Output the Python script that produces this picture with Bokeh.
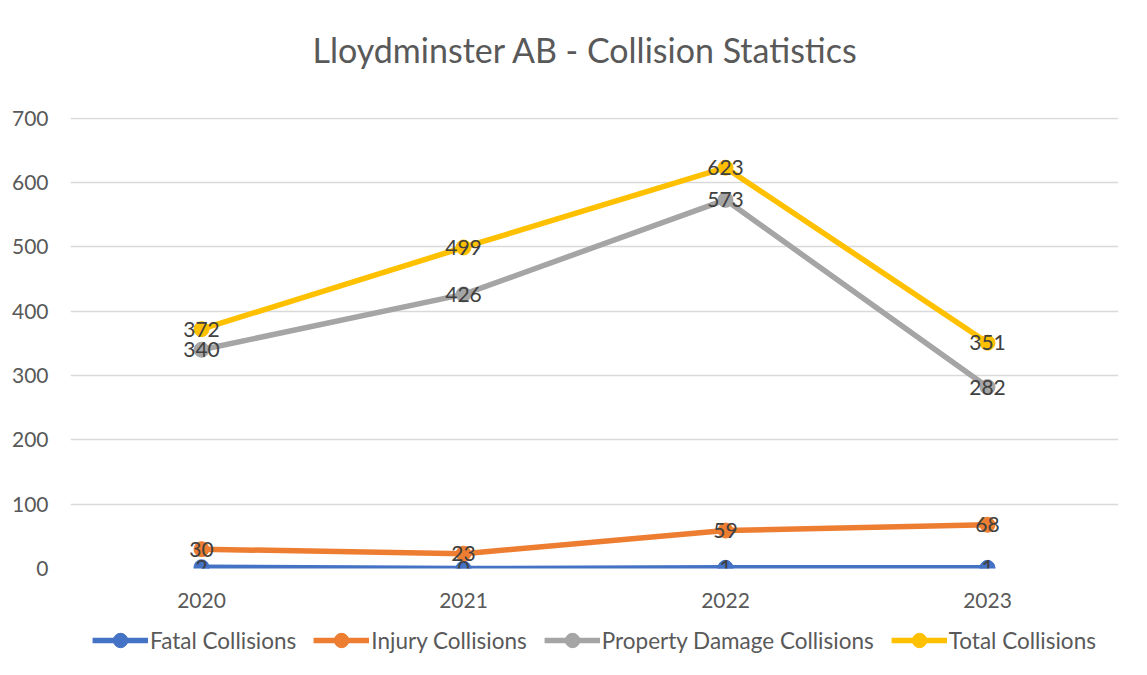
from bokeh.plotting import figure
from bokeh.models import ColumnDataSource, FactorRange, Range1d, Legend, LegendItem, SingleIntervalTicker, LabelSet
from bokeh.layouts import column
from bokeh.core.properties import value
from bokeh.embed import file_html
from bokeh.resources import INLINE

years = ["2020", "2021", "2022", "2023"]
fatal = [2, 0, 1, 1]
injury = [30, 23, 59, 68]
property_damage = [340, 426, 573, 282]
total = [372, 499, 623, 351]

series = [
    ("Fatal Collisions", fatal, "#4472C4"),
    ("Injury Collisions", injury, "#ED7D31"),
    ("Property Damage Collisions", property_damage, "#A5A5A5"),
    ("Total Collisions", total, "#FFC000"),
]

FONT = "Lato"

# title strip
tt = figure(width=1131, height=105, x_range=Range1d(0, 1), y_range=Range1d(0, 1),
            output_backend="svg", toolbar_location=None, x_axis_type=None, y_axis_type=None,
            min_border_left=70, min_border_right=13, min_border_top=0, min_border_bottom=0,
            title="Lloydminster AB - Collision Statistics")
tt.outline_line_color = None
tt.grid.grid_line_color = None
tt.title.align = "left"
tt.title.offset = 242
tt.title.vertical_align = "top"
tt.title.text_font = FONT
tt.title.text_font_size = "34px"
tt.title.text_font_style = "normal"
tt.title.text_color = "#595959"
tt.title.standoff = 56

p = figure(width=1131, height=515, x_range=FactorRange(*years), y_range=Range1d(0, 701),
           output_backend="svg", toolbar_location=None,
           min_border_left=70, min_border_right=13, min_border_top=12, min_border_bottom=52)
p.outline_line_color = None
p.background_fill_color = "white"
p.border_fill_color = "white"

p.yaxis.ticker = SingleIntervalTicker(interval=100)
p.yaxis.axis_line_color = None
p.yaxis.major_tick_line_color = None
p.yaxis.minor_tick_line_color = None
p.yaxis.major_label_text_font = FONT
p.yaxis.major_label_text_font_size = "21px"
p.yaxis.major_label_text_color = "#595959"
p.yaxis.major_label_standoff = 16

p.xaxis.axis_line_color = None
p.xaxis.major_tick_line_color = None
p.xaxis.minor_tick_line_color = None
p.xaxis.major_label_text_font = FONT
p.xaxis.major_label_text_font_size = "21px"
p.xaxis.major_label_text_color = "#595959"
p.xaxis.major_label_standoff = 18

p.xgrid.grid_line_color = None
p.ygrid.grid_line_color = "#d9d9d9"
p.ygrid.grid_line_width = 1.5

for name, vals, color in series:
    src = ColumnDataSource(dict(x=years, y=vals))
    p.line("x", "y", source=src, line_color=color, line_width=5.5)
    p.scatter("x", "y", source=src, marker="circle", size=15, fill_color=color, line_color=color)

for name, vals, color in series:
    src = ColumnDataSource(dict(x=years, y=vals, t=[str(v) for v in vals]))
    labels = LabelSet(x="x", y="y", text="t", source=src, text_align="center", text_baseline="middle",
                      text_font=value(FONT), text_font_size="21px", text_color="#404040")
    p.add_layout(labels)

# legend strip below the chart (same series, drawn invisibly, only for the legend keys)
lg = figure(width=1131, height=40, x_range=FactorRange(*years), y_range=Range1d(0, 701),
            output_backend="svg", toolbar_location=None, x_axis_type=None, y_axis_type=None,
            min_border_left=40, min_border_right=0, min_border_top=0, min_border_bottom=0)
lg.outline_line_color = None
lg.grid.grid_line_color = None
items = []
for name, vals, color in series:
    src = ColumnDataSource(dict(x=years, y=vals))
    ln = lg.line("x", "y", source=src, line_color=color, line_width=5.5, visible=False)
    mk = lg.scatter("x", "y", source=src, marker="circle", size=15, fill_color=color, line_color=color, visible=False)
    items.append(LegendItem(label=name, renderers=[ln, mk]))
legend = Legend(items=items, orientation="horizontal", location="center",
                label_text_font=FONT, label_text_font_size="22.5px", label_text_color="#595959",
                glyph_width=56, glyph_height=36, label_standoff=2, spacing=17,
                border_line_color=None, background_fill_alpha=0, padding=0, margin=0)
lg.add_layout(legend, "center")

layout = column(tt, p, lg, spacing=0)
open("out.html", "w").write(file_html(layout, INLINE))
